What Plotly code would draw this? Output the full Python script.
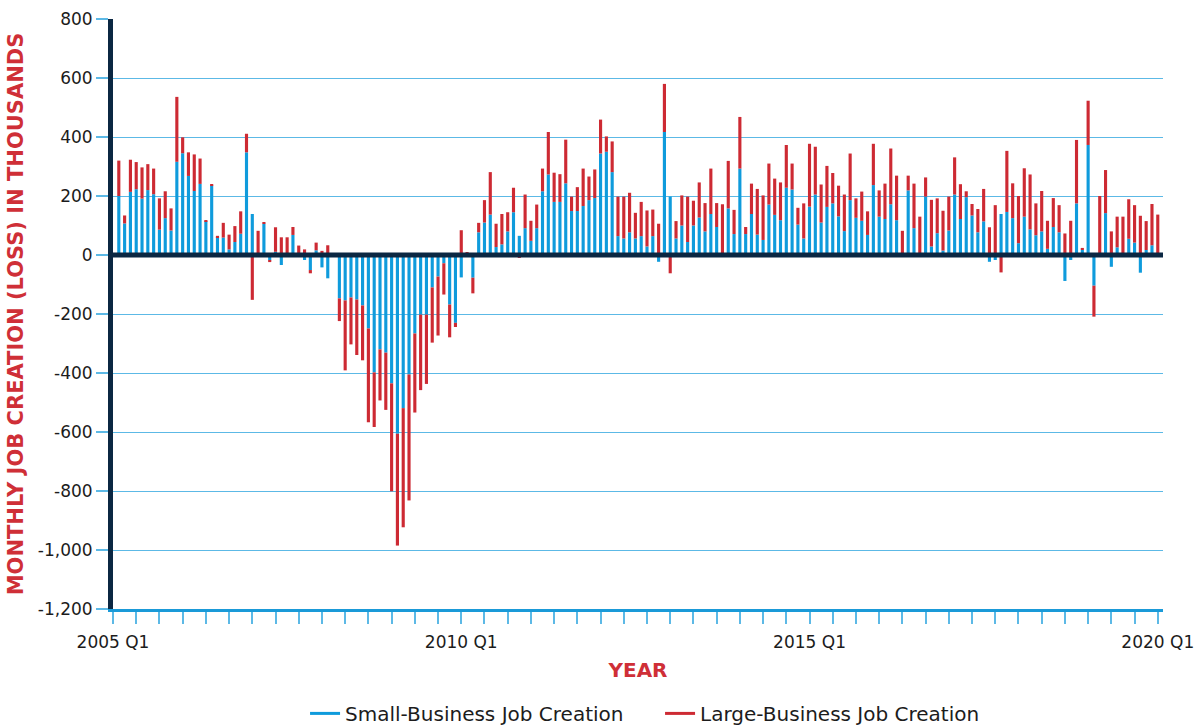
import plotly.graph_objects as go

# Monthly job creation (thousands), Feb 2005 .. Jan 2020 (180 months)
small_business = [
    200, 107, 214, 223, 191, 220, 206, 86, 125, 83,
    316, 345, 268, 217, 241, 115, 236, 61, 59, 19,
    44, 72, 348, 139, 2, 106, -18, 11, -34, 2,
    68, 2, -17, -51, 16, -42, -79, 0, -147, -154,
    -144, -151, -171, -249, -398, -320, -331, -435, -606, -519,
    -405, -266, -202, -202, -110, -73, -28, -168, -230, -76,
    4, -77, 77, 110, 137, 27, 36, 80, 145, 65,
    91, 48, 91, 216, 273, 180, 180, 243, 149, 149,
    166, 186, 193, 344, 350, 281, 64, 56, 77, 56,
    64, 29, 64, -23, 417, 198, 56, 100, 44, 100,
    127, 80, 139, 95, 3, 158, 71, 293, 71, 139,
    69, 51, 171, 136, 118, 228, 222, 103, 56, 164,
    205, 110, 163, 175, 131, 81, 186, 126, 116, 68,
    237, 130, 122, 172, 118, 0, 219, 91, 0, 198,
    29, 74, 15, 83, 205, 122, 196, 134, 77, 114,
    -23, -17, 139, 146, 125, 40, 130, 87, 67, 80,
    21, 95, 77, -88, -17, 175, 17, 373, -104, 0,
    142, -40, 26, 0, 55, 42, -60, 17, 33, 0,
]
large_business = [
    120, 27, 109, 92, 106, 88, 87, 106, 91, 75,
    220, 54, 80, 124, 86, 3, 2, 4, 50, 50,
    54, 76, 63, -152, 80, 5, -6, 83, 60, 58,
    27, 30, 19, -11, 26, 14, 33, 0, -77, -237,
    -159, -188, -186, -318, -185, -173, -194, -366, -379, -404,
    -427, -268, -256, -235, -187, -200, -106, -111, -14, 84,
    4, -53, 32, 76, 144, 79, 103, 65, 83, -10,
    114, 68, 80, 77, 144, 99, 94, 148, 49, 81,
    127, 80, 97, 115, 52, 104, 134, 142, 134, 87,
    116, 122, 90, 106, 163, -62, 59, 102, 154, 84,
    119, 96, 154, 81, 169, 161, 82, 175, 24, 103,
    155, 151, 139, 123, 128, 145, 88, 57, 119, 213,
    162, 129, 139, 103, 104, 124, 158, 66, 99, 80,
    140, 89, 120, 189, 151, 82, 50, 151, 130, 65,
    158, 118, 135, 115, 126, 118, 20, 39, 79, 110,
    94, 169, -59, 207, 118, 160, 164, 186, 108, 137,
    95, 98, 92, 73, 116, 215, 7, 150, -105, 200,
    146, 80, 104, 130, 134, 127, 133, 98, 140, 137,
]
month_index = list(range(1, len(small_business) + 1))

x_tick_values = [0, 60, 120, 180]
x_tick_labels = ["2005 Q1", "2010 Q1", "2015 Q1", "2020 Q1"]
y_tick_values = [-1200, -1000, -800, -600, -400, -200, 0, 200, 400, 600, 800]
y_tick_labels = ["-1,200", "-1,000", "-800", "-600", "-400", "-200", "0",
                 "200", "400", "600", "800"]

BLUE = "#0f9bdc"
RED = "#cd2a33"
NAVY = "#0b2742"
GRID = "#5cb9e6"
TITLE_RED = "#cf2f37"
TEXT = "#1c1c1c"

fig = go.Figure()
fig.add_trace(go.Bar(x=month_index, y=small_business, name="Small-Business Job Creation",
                     marker=dict(color=BLUE, line=dict(width=0)), showlegend=False))
fig.add_trace(go.Bar(x=month_index, y=large_business, name="Large-Business Job Creation",
                     marker=dict(color=RED, line=dict(width=0)), showlegend=False))
# legend entries drawn as short lines
fig.add_trace(go.Scatter(x=[None], y=[None], mode="lines", name="Small-Business Job Creation",
                         line=dict(color=BLUE, width=3)))
fig.add_trace(go.Scatter(x=[None], y=[None], mode="lines", name="Large-Business Job Creation",
                         line=dict(color=RED, width=3)))

fig.update_layout(
    width=1203, height=725,
    margin=dict(l=113, r=40, t=19, b=116, autoexpand=False),
    barmode="relative", bargap=0.46,
    plot_bgcolor="white", paper_bgcolor="white",
    font=dict(family="DejaVu Sans", color=TEXT, size=17),
    legend=dict(orientation="h", x=0.521, xanchor="center",
                yref="container", y=0.016, yanchor="middle",
                font=dict(family="DejaVu Sans", size=20, color=TEXT),
                itemwidth=30, entrywidth=310, entrywidthmode="pixels",
                bgcolor="rgba(0,0,0,0)"),
    shapes=[dict(type="line", xref="paper", x0=0, x1=1, yref="y", y0=0, y1=0,
                 line=dict(color=NAVY, width=5), layer="above")],
)

fig.update_xaxes(
    range=[0, 180.9], showgrid=False, zeroline=False, automargin=False,
    tickmode="array", tickvals=x_tick_values, ticktext=x_tick_labels,
    ticks="outside", ticklen=12, tickwidth=1.5, tickcolor=GRID,
    ticklabelstandoff=4,
    minor=dict(tickmode="linear", tick0=0, dtick=4, ticks="outside", ticklen=12,
               tickwidth=1.5, tickcolor=GRID, showgrid=False),
    showline=True, linecolor="#1a9ad8", linewidth=3,
    tickfont=dict(size=17, color=TEXT),
    title=dict(text="YEAR", standoff=12,
               font=dict(family="DejaVu Sans", size=20, color=TITLE_RED, weight="bold")),
)

fig.update_yaxes(
    range=[-1200, 800], zeroline=False, automargin=False,
    tickmode="array", tickvals=y_tick_values, ticktext=y_tick_labels,
    showgrid=True, gridcolor=GRID, gridwidth=1.3,
    ticks="outside", ticklen=12, tickwidth=1.5, tickcolor=GRID,
    showline=True, linecolor=NAVY, linewidth=5,
    tickfont=dict(size=17, color=TEXT),
    title=dict(text="MONTHLY JOB CREATION (LOSS) IN THOUSANDS", standoff=10,
               font=dict(family="DejaVu Sans", size=21, color=TITLE_RED, weight="bold")),
)

fig.write_html("out.html", config={"displayModeBar": False},
               post_script="document.body.style.margin='0';")
